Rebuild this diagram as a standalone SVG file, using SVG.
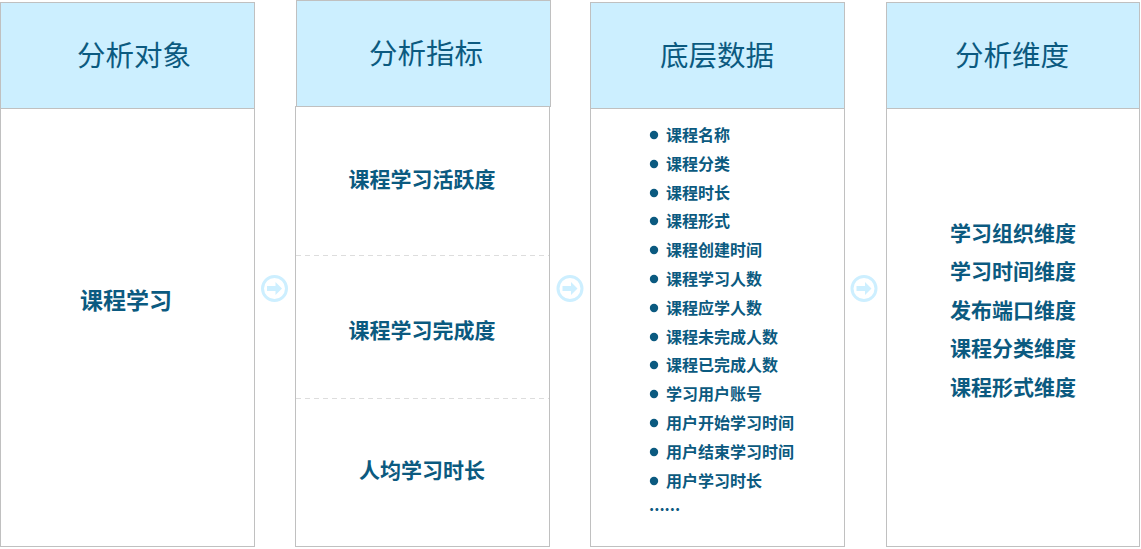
<svg xmlns="http://www.w3.org/2000/svg" width="1141" height="549" viewBox="0 0 1141 549">
<defs>
<style>
.hd{fill:#ccefff;stroke:#c0c0c0;stroke-width:1}
.bd{fill:#ffffff;stroke:#c0c0c0;stroke-width:1}
.ttl{font-family:"Noto Sans CJK SC","Noto Sans",sans-serif;font-size:28.5px;fill:#0b5a80;text-anchor:middle;dominant-baseline:central}
.lbl{font-family:"Noto Sans CJK SC","Noto Sans",sans-serif;font-size:21px;font-weight:bold;fill:#0b5a80;text-anchor:middle;dominant-baseline:central}
.li{font-family:"Noto Sans CJK SC","Noto Sans",sans-serif;font-size:16px;font-weight:bold;fill:#0b5a80;dominant-baseline:central}
.dot{fill:#0b5a80}
.sep{stroke:#dddddd;stroke-width:1;stroke-dasharray:5 4}
.arc{fill:none;stroke:#cdefff;stroke-width:3}
.arr{fill:#cdefff}
</style>
<g id="arrowIcon">
<circle class="arc" cx="0" cy="0" r="12"/>
<path class="arr" d="M-7.5,-2.5 H1 V-6.5 L7.5,0 L1,6.5 V2.5 H-7.5 Z"/>
</g>
</defs>

<g id="node-object">
<rect class="hd" x="0.5" y="2.5" width="254" height="106"/>
<rect class="bd" x="0.5" y="108.5" width="254" height="438"/>
<text class="ttl" x="134" y="53">分析对象</text>
<text class="lbl" x="126" y="299" style="font-size:23px">课程学习</text>
</g>

<g id="node-metrics">
<rect class="hd" x="296.5" y="0.5" width="254" height="106"/>
<rect class="bd" x="295.5" y="106.5" width="254" height="440"/>
<text class="ttl" x="426" y="51">分析指标</text>
<line class="sep" x1="296" y1="255.5" x2="549" y2="255.5"/>
<line class="sep" x1="296" y1="398.5" x2="549" y2="398.5"/>
<text class="lbl" x="422" y="178">课程学习活跃度</text>
<text class="lbl" x="422" y="329">课程学习完成度</text>
<text class="lbl" x="422" y="469">人均学习时长</text>
</g>

<g id="node-data">
<rect class="hd" x="590.5" y="2.5" width="254" height="106"/>
<rect class="bd" x="590.5" y="108.5" width="254" height="438"/>
<text class="ttl" x="717" y="53">底层数据</text>
<g>
<circle class="dot" cx="654" cy="135" r="4.2"/><text class="li" x="666" y="134">课程名称</text>
<circle class="dot" cx="654" cy="164" r="4.2"/><text class="li" x="666" y="163">课程分类</text>
<circle class="dot" cx="654" cy="193" r="4.2"/><text class="li" x="666" y="192">课程时长</text>
<circle class="dot" cx="654" cy="221" r="4.2"/><text class="li" x="666" y="220">课程形式</text>
<circle class="dot" cx="654" cy="250" r="4.2"/><text class="li" x="666" y="249">课程创建时间</text>
<circle class="dot" cx="654" cy="279" r="4.2"/><text class="li" x="666" y="278">课程学习人数</text>
<circle class="dot" cx="654" cy="308" r="4.2"/><text class="li" x="666" y="307">课程应学人数</text>
<circle class="dot" cx="654" cy="337" r="4.2"/><text class="li" x="666" y="336">课程未完成人数</text>
<circle class="dot" cx="654" cy="365" r="4.2"/><text class="li" x="666" y="364">课程已完成人数</text>
<circle class="dot" cx="654" cy="394" r="4.2"/><text class="li" x="666" y="393">学习用户账号</text>
<circle class="dot" cx="654" cy="423" r="4.2"/><text class="li" x="666" y="422">用户开始学习时间</text>
<circle class="dot" cx="654" cy="452" r="4.2"/><text class="li" x="666" y="451">用户结束学习时间</text>
<circle class="dot" cx="654" cy="481" r="4.2"/><text class="li" x="666" y="480">用户学习时长</text>
<text class="li" x="649" y="504">......</text>
</g>
</g>

<g id="node-dimension">
<rect class="hd" x="886.5" y="2.5" width="253" height="106"/>
<rect class="bd" x="886.5" y="108.5" width="253" height="438"/>
<text class="ttl" x="1012" y="53">分析维度</text>
<text class="lbl" x="1013" y="232">学习组织维度</text>
<text class="lbl" x="1013" y="270">学习时间维度</text>
<text class="lbl" x="1013" y="309">发布端口维度</text>
<text class="lbl" x="1013" y="347">课程分类维度</text>
<text class="lbl" x="1013" y="386">课程形式维度</text>
</g>

<g id="connectors">
<use href="#arrowIcon" x="274.5" y="288.5"/>
<use href="#arrowIcon" x="570" y="288.5"/>
<use href="#arrowIcon" x="864" y="288.5"/>
</g>
</svg>
